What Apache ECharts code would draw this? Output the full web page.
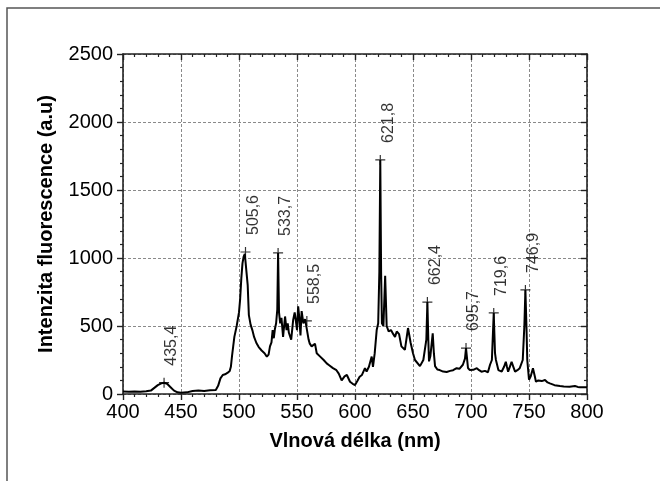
<!DOCTYPE html>
<html>
<head>
<meta charset="utf-8">
<script src="https://cdn.jsdelivr.net/npm/echarts@6/dist/echarts.min.js"></script>
<style>
html,body{margin:0;padding:0;background:#fff;}
#chart{width:660px;height:481px;}
</style>
</head>
<body>
<div id="chart"></div>
<script>
// Wavelength (nm) and fluorescence intensity (a.u.)
var wavelengths = [400,405,410,415,420,424,427,430,433,435.4,438,441,444,447,450,455,460,465,470,475,480,482,484,486,488,490,491,492,493,494,495,496,498,500,501,502,503,504,505,505.6,506.5,507.5,508.5,510,511.5,513,515,517,519.5,522,524,525.5,526.7,528,529,530,531,532,533,533.7,534.5,535.5,536.6,538,539.7,541,542,543,545,546.7,548,549,550,551,552,553,554,555.5,557,558.5,560,561,562.6,564,565.5,567,570,573,575.6,578,581,584,586,588.5,591,593,595.7,598,600,602,604,606,608.6,610,612,614.4,615.5,617,618.7,620,621,621.8,622.5,623.2,624.5,626,627.3,629,631,633,634.5,636,638,640,643,645.7,648,650,651.7,653,656,658.9,660.5,661.5,662.4,663.2,663.8,665,667,668,669,671,673,676,679,682,684.6,687.6,690,693,694.8,695.7,696.6,697.4,699,702,705,707,709,712,714.6,716.4,718,719.6,720.7,721.5,723.6,726.5,728.5,730,731,732,733.5,735,736.5,738,740,742,744.6,746,746.9,747.8,748.5,750,751.5,753.4,755,756,758,759.5,761,763.8,766,768,772,776.7,780,785,789.6,792,794,798,800];
var intensity = [18,17,18,16,20,25,45,65,78,83,75,50,25,12,10,12,22,25,22,27,30,60,115,140,145,155,150,170,200,280,350,420,500,600,700,850,960,1010,1030,1044,1020,800,580,510,470,420,375,345,320,300,275,290,350,380,470,410,480,520,620,1037,600,520,560,420,570,470,520,450,400,545,600,540,470,645,560,430,610,520,550,537,400,370,350,340,370,300,275,250,225,210,190,175,150,100,130,140,90,75,66,95,127,140,190,165,200,275,200,300,470,520,900,1721,900,520,500,870,500,460,470,440,420,460,440,350,325,485,375,300,250,240,205,250,250,400,676,400,240,280,446,300,205,180,176,165,162,170,175,190,185,215,260,338,260,191,176,178,190,175,164,170,160,215,250,596,300,250,176,165,200,237,200,164,200,237,200,164,175,190,250,500,765,500,250,105,130,190,130,90,100,105,95,103,85,78,65,59,56,54,59,52,50,50,50];
var peakX = [435.4,505.6,533.7,558.5,621.8,662.4,695.7,719.6,746.9];
var peakY = [83,1044,1037,537,1721,676,338,596,765];
var peakLabels = ['435,4','505,6','533,7','558,5','621,8','662,4','695,7','719,6','746,9'];
var xTicks = [400,450,500,550,600,650,700,750,800];
var yTicks = [0,500,1000,1500,2000,2500];

var FONT = '"Liberation Sans", Arial, Helvetica, sans-serif';
var spectrum = wavelengths.map(function(w,i){return [w,intensity[i]];});
var peaks = peakX.map(function(w,i){return {value:[w,peakY[i]], name:peakLabels[i]};});
var plain = function(v){return String(v);};

var chart = echarts.init(document.getElementById('chart'), null, {renderer:'canvas'});
var axisLine = {show:true, onZero:false, lineStyle:{color:'#222', width:1.6}};
var grid = {show:true, lineStyle:{color:'#8a8a8a', width:1, type:[3,2]}};
chart.setOption({
  animation:false,
  backgroundColor:'#fff',
  graphic:[{type:'rect', shape:{x:7, y:8, width:720, height:520}, style:{fill:'none', stroke:'#555', lineWidth:1.5}, silent:true}],
  grid:{left:123, right:73, top:54, bottom:87, containLabel:false},
  xAxis:[{
    type:'value', min:xTicks[0], max:xTicks[xTicks.length-1], interval:50, position:'bottom',
    axisLine:axisLine,
    axisTick:{show:true, inside:false, length:6, lineStyle:{color:'#222', width:1.4}},
    minorTick:{show:true, splitNumber:5, length:3, lineStyle:{color:'#222', width:1.2}},
    splitLine:grid,
    axisLabel:{fontFamily:FONT, fontSize:20, color:'#000', margin:8, formatter:plain},
    name:'Vlnová délka (nm)', nameLocation:'middle', nameGap:37,
    nameTextStyle:{fontFamily:FONT, fontSize:20, fontWeight:'bold', color:'#000'}
  },{
    type:'value', min:xTicks[0], max:xTicks[xTicks.length-1], interval:50, position:'top',
    axisLine:axisLine,
    axisTick:{show:true, inside:true, length:6, lineStyle:{color:'#222', width:1.4}},
    minorTick:{show:true, splitNumber:5, length:3, lineStyle:{color:'#222', width:1.2}},
    splitLine:{show:false}, axisLabel:{show:false}
  }],
  yAxis:[{
    type:'value', min:yTicks[0], max:yTicks[yTicks.length-1], interval:500, position:'left',
    axisLine:axisLine,
    axisTick:{show:true, inside:false, length:6, lineStyle:{color:'#222', width:1.4}},
    minorTick:{show:true, splitNumber:5, length:3, lineStyle:{color:'#222', width:1.2}},
    splitLine:grid,
    axisLabel:{fontFamily:FONT, fontSize:20, color:'#000', margin:10, formatter:plain},
    name:'Intenzita fluorescence (a.u)', nameLocation:'middle', nameGap:67, nameRotate:90,
    nameTextStyle:{fontFamily:FONT, fontSize:20, fontWeight:'bold', color:'#000'}
  },{
    type:'value', min:yTicks[0], max:yTicks[yTicks.length-1], interval:500, position:'right',
    axisLine:axisLine,
    axisTick:{show:true, inside:true, length:6, lineStyle:{color:'#222', width:1.4}},
    minorTick:{show:true, splitNumber:5, length:3, lineStyle:{color:'#222', width:1.2}},
    splitLine:{show:false}, axisLabel:{show:false}
  }],
  series:[{
    type:'line', data:spectrum, showSymbol:false, symbol:'none',
    lineStyle:{color:'#000', width:2}, z:3
  },{
    type:'scatter', data:peaks,
    symbol:'path://M0,4.4 H10 V5.6 H0 Z M4.4,0 H5.6 V10 H4.4 Z', symbolSize:10,
    itemStyle:{color:'#000'}, z:4,
    label:{show:true, formatter:'{b}', position:'top', distance:12, rotate:90,
      align:'left', verticalAlign:'top', fontFamily:FONT, fontSize:16, color:'#000'}
  }]
});
</script>
</body>
</html>
